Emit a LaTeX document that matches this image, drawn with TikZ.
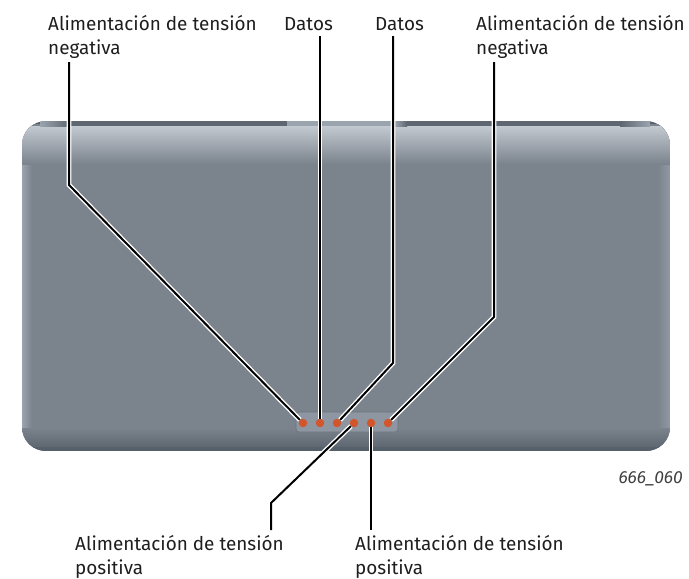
\documentclass[tikz,border=0pt]{standalone}
\usepackage{fontspec}
\setmainfont{Fira Sans}
\usetikzlibrary{calc}

\definecolor{txt}{HTML}{1E1E1E}
\definecolor{hsedge}{HTML}{56606B}
\definecolor{hsbody}{HTML}{7B838D}
\definecolor{hslight}{HTML}{C2C9D0}
\definecolor{hsdark}{HTML}{5E6771}
\definecolor{hsrim}{HTML}{9AA4AE}
\definecolor{plate}{HTML}{8E97A1}
\definecolor{plateedge}{HTML}{6A737D}
\definecolor{contactred}{HTML}{D2552C}

\tikzset{
  lbl/.style={inner sep=0pt, text=txt, align=left,
    font=\fontsize{18.9}{24}\selectfont},
  figno/.style={inner sep=0pt, text=txt!85,
    font=\fontsize{17.5}{20}\selectfont\itshape},
  contact/.style={circle, inner sep=0pt, minimum size=8.5pt,
    fill=contactred},
  leader/.style={line width=2pt, black, line join=miter,
    preaction={draw=white, line width=4.8pt}},
}

\begin{document}
\begin{tikzpicture}[x=1pt,y=-1pt]
\useasboundingbox (0,0) rectangle (689,579);

% ---- housing ----
\begin{scope}
  \clip[rounded corners=24pt] (22,121) rectangle (670,451);
  \fill[hsedge] (22,121) rectangle (670,451);
  % main face
  \fill[hsbody] (24,124) rectangle (668,449);
  % side rims
  \shade[left color=hsrim, right color=hsbody] (22,121) rectangle (32,445);
  \shade[left color=hsbody, right color=hsrim!70!hsbody] (658,121) rectangle (670,445);
  % upper rim highlight
  \shade[top color=hslight, bottom color=hsbody] (22,126) rectangle (670,164);
  % thin dark top lip with a raised middle section
  \shade[left color=hsrim, right color=hsdark] (40,121) rectangle (70,126);
  \fill[hsdark] (70,121) rectangle (287,126);
  \fill[hsrim] (287,121) rectangle (395,126);
  \shade[left color=hsrim, right color=hsdark] (395,121) rectangle (407,126);
  \fill[hsdark] (407,121) rectangle (620,126);
  \shade[left color=hsdark, right color=hsrim] (620,121) rectangle (650,126);
  % lower rim shadow
  \shade[top color=hsbody, bottom color=hsdark] (22,428) rectangle (670,447);
  \fill[hsedge] (22,447) rectangle (670,451);
\end{scope}

% ---- connector plate and contacts ----
\fill[plate, draw=plateedge, line width=0.6pt, rounded corners=3pt]
  (296,412) rectangle (398,432);
\node[contact] (p1) at (303,423) {};
\node[contact] (p2) at (320,423) {};
\node[contact] (p3) at (337,423) {};
\node[contact] (p4) at (354,423) {};
\node[contact] (p5) at (371,423) {};
\node[contact] (p6) at (388,423) {};

% ---- labels (base anchor = baseline of the last line) ----
\node[lbl, anchor=base west] (negL) at (48,54) {Alimentación de tensión\\negativa};
\node[lbl, anchor=base west] (datL) at (284,30) {Datos};
\node[lbl, anchor=base west] (datR) at (375,30) {Datos};
\node[lbl, anchor=base west] (negR) at (476,54) {Alimentación de tensión\\negativa};
\node[lbl, anchor=base west] (posL) at (75,574) {Alimentación de tensión\\positiva};
\node[lbl, anchor=base west] (posR) at (355,574) {Alimentación de tensión\\positiva};
\node[figno, anchor=base east] (fig) at (683,483) {666\_060};

% ---- leader ends ----
\coordinate (sNegL) at (69,62);
\coordinate (sDatL) at (320,36);
\coordinate (sDatR) at (393,36);
\coordinate (sNegR) at (494,62);
\coordinate (ePosL) at (271,530);
\coordinate (ePosR) at (371,530);

% ---- leaders ----
\draw[leader] (sNegL) -- (69,185) -- (p1.135);
\draw[leader] (sDatL) -- (p2.north);
\draw[leader] (sDatR) -- (393,363) -- (p3.45);
\draw[leader] (sNegR) -- (494,317) -- (p6.45);
\draw[leader] (p4.225) -- (271,503) -- (ePosL);
\draw[leader] (p5.south) -- (ePosR);
\end{tikzpicture}
\end{document}
